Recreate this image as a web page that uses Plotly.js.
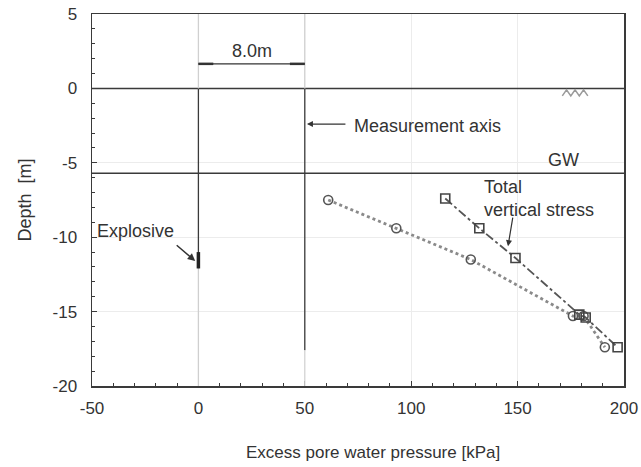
<!DOCTYPE html>
<html>
<head>
<meta charset="utf-8">
<script src="https://cdn.plot.ly/plotly-3.0.1.min.js"></script>
<style>body{margin:0;background:#fff}#plot{width:641px;height:467px}</style>
</head>
<body>
<div id="plot"></div>
<script>
// Excess pore water pressure (circles)
var poreX = [61, 93, 128, 176, 181, 191];
var poreY = [-7.5, -9.4, -11.5, -15.3, -15.3, -17.4];
// Total vertical stress (squares)
var stressX = [116, 132, 149, 179, 182, 197];
var stressY = [-7.4, -9.4, -11.4, -15.2, -15.4, -17.4];
// Tick labels
var xTickVals = [-50, 0, 50, 100, 150, 200];
var xTickText = ['-50', '0', '50', '100', '150', '200'];
var yTickVals = [5, 0, -5, -10, -15, -20];
var yTickText = ['5', '0', '-5', '-10', '-15', '-20'];
// Site geometry
var gwDepth = -5.7;
var explosiveX = 0;
var measureX = 50;
var explosiveTop = -11;
var explosiveBottom = -12.1;
var measureBottom = -17.6;

var traces = [
  {x: poreX, y: poreY, mode: 'lines+markers', type: 'scatter',
   line: {color: '#8a8a8a', width: 2.8, dash: 'dot'},
   marker: {symbol: 'circle-open', size: 9, color: '#555', line: {width: 1.6}}},
  {x: stressX, y: stressY, mode: 'lines+markers', type: 'scatter',
   line: {color: '#555', width: 1.8, dash: 'dashdot'},
   marker: {symbol: 'square-open', size: 9, color: '#444', line: {width: 1.6}}}
];

var frame = '#3a3a3a';
var shapes = [
  {type: 'line', xref: 'paper', x0: 0, x1: 1, yref: 'y', y0: 0, y1: 0, line: {color: frame, width: 1.5}},
  {type: 'line', xref: 'paper', x0: 0, x1: 1, yref: 'y', y0: gwDepth, y1: gwDepth, line: {color: frame, width: 1.5}},
  {type: 'line', x0: explosiveX, x1: explosiveX, y0: 0, y1: explosiveBottom, line: {color: frame, width: 1.3}},
  {type: 'line', x0: explosiveX, x1: explosiveX, y0: explosiveBottom, y1: -20, line: {color: '#cfcfcf', width: 1.3}},
  {type: 'line', x0: explosiveX, x1: explosiveX, y0: explosiveTop, y1: explosiveBottom, line: {color: '#222', width: 3.5}},
  {type: 'line', x0: measureX, x1: measureX, y0: 0, y1: measureBottom, line: {color: frame, width: 1.3}},
  {type: 'line', x0: measureX, x1: measureX, y0: measureBottom, y1: -20, line: {color: '#d5d5d5', width: 1.3}},
  {type: 'line', x0: explosiveX, x1: explosiveX, y0: 0, y1: 5, line: {color: '#d0d0d0', width: 1.3}},
  {type: 'line', x0: measureX, x1: measureX, y0: 0, y1: 5, line: {color: '#d0d0d0', width: 1.3}},
  {type: 'line', x0: explosiveX, x1: measureX, y0: 1.65, y1: 1.65, line: {color: '#333', width: 1.2}},
  {type: 'line', x0: explosiveX, x1: 7, y0: 1.65, y1: 1.65, line: {color: '#333', width: 2.5}},
  {type: 'line', x0: 43, x1: measureX, y0: 1.65, y1: 1.65, line: {color: '#333', width: 2.5}},
  // water table symbol
  {type: 'path', path: 'M 171 -0.5 L 173 -0.1 L 175 -0.5 L 177 -0.1 L 179 -0.5 L 181 -0.1 L 183 -0.5', line: {color: '#9a9a9a', width: 1.5}}
];

var fam = 'Liberation Sans, Arial, sans-serif';
var font = {family: fam, size: 18, color: '#333'};
var tickFont = {family: fam, size: 17, color: '#333'};
var titleFont = {family: fam, size: 17, color: '#333'};
var annotations = [
  {x: 25, y: 1.7, text: '8.0m', showarrow: false, yanchor: 'bottom', font: font},
  {x: 51, y: -2.4, ax: 40, ay: 0, text: '', showarrow: true, arrowhead: 2, arrowsize: 1, arrowwidth: 1.2, arrowcolor: '#333'},
  {x: 72, y: -2.5, text: 'Measurement axis', showarrow: false, xanchor: 'left', font: font},
  {x: 171.5, y: gwDepth + 0.05, text: 'GW', showarrow: false, yanchor: 'bottom', font: font},
  {x: 133.5, y: -5.85, text: 'Total<br>vertical stress', showarrow: false, xanchor: 'left', yanchor: 'top', align: 'left', font: font},
  {x: 145.5, y: -10.6, ax: 5, ay: -30, text: '', showarrow: true, arrowhead: 2, arrowsize: 1, arrowwidth: 1.2, arrowcolor: '#333'},
  {x: -48.5, y: -9.55, text: 'Explosive', showarrow: false, xanchor: 'left', font: font},
  {x: -1.5, y: -11.6, ax: -20, ay: -17, text: '', showarrow: true, arrowhead: 2, arrowsize: 1, arrowwidth: 1.5, arrowcolor: '#333'},
  {xref: 'paper', yref: 'paper', x: 0.528, y: -0.18, xanchor: 'center', yanchor: 'middle', text: 'Excess pore water pressure [kPa]', showarrow: false, font: titleFont}
];

var layout = {
  width: 641, height: 467,
  margin: {l: 92, r: 17, t: 14, b: 81},
  showlegend: false,
  paper_bgcolor: '#fff', plot_bgcolor: '#fff',
  font: font,
  xaxis: {range: [-50, 200], tickmode: 'array', tickvals: xTickVals, ticktext: xTickText,
          ticks: 'inside', ticklen: 5, tickcolor: frame, ticklabelstandoff: 6,
          showgrid: true, gridcolor: '#ececec', zeroline: false,
          showline: true, mirror: true, linecolor: frame, linewidth: 1.5,
          minor: {dtick: 10, ticks: 'inside', ticklen: 3, tickcolor: frame, showgrid: false},
          tickfont: tickFont},
  yaxis: {range: [-20, 5], tickmode: 'array', tickvals: yTickVals, ticktext: yTickText,
          ticks: 'inside', ticklen: 5, tickcolor: frame, ticklabelstandoff: 10,
          showgrid: true, gridcolor: '#ececec', zeroline: false,
          showline: true, mirror: true, linecolor: frame, linewidth: 1.5,
          minor: {dtick: 1, ticks: 'inside', ticklen: 3, tickcolor: frame, showgrid: false},
          title: {text: 'Depth  [m]', font: {family: fam, size: 18, color: '#333'}, standoff: 16},
          tickfont: tickFont},
  shapes: shapes,
  annotations: annotations
};
Plotly.newPlot('plot', traces, layout, {displayModeBar: false, staticPlot: true});
</script>
</body>
</html>
